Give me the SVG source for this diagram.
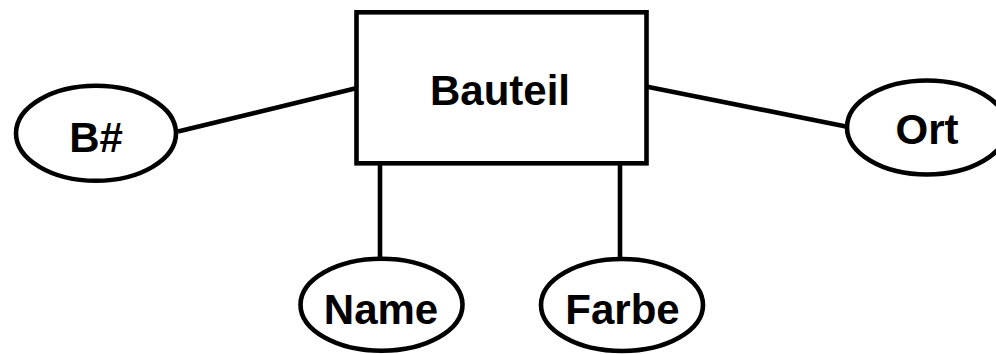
<svg xmlns="http://www.w3.org/2000/svg" width="996" height="354" viewBox="0 0 996 354">
<style>
.shape{fill:#fff;stroke:#000;stroke-width:4.6}
.conn line{stroke:#000;stroke-width:4.6}
text{font-family:"Liberation Sans",Arial,sans-serif;font-weight:bold;font-size:42px;text-anchor:middle;fill:#000}
</style>
<rect width="996" height="354" fill="#fff"/>
<g id="connectors" class="conn">
<line x1="178" y1="131.5" x2="357" y2="88"/>
<line x1="646" y1="86.5" x2="846" y2="126.5"/>
<line x1="380" y1="163" x2="380" y2="260"/>
<line x1="620" y1="163" x2="620" y2="260"/>
</g>
<g id="bauteil">
<rect class="shape" x="356.5" y="12.3" width="290" height="151"/>
<text x="500" y="105">Bauteil</text>
</g>
<g id="bnr">
<ellipse class="shape" cx="96" cy="133.3" rx="80" ry="47.5"/>
<text x="96" y="152">B#</text>
</g>
<g id="ort">
<ellipse class="shape" cx="927" cy="127.5" rx="80" ry="47"/>
<text x="927" y="144">Ort</text>
</g>
<g id="name">
<ellipse class="shape" cx="381.5" cy="304.7" rx="81" ry="46"/>
<text x="381" y="324">Name</text>
</g>
<g id="farbe">
<ellipse class="shape" cx="622" cy="305" rx="81" ry="46"/>
<text x="622.5" y="324">Farbe</text>
</g>
</svg>
